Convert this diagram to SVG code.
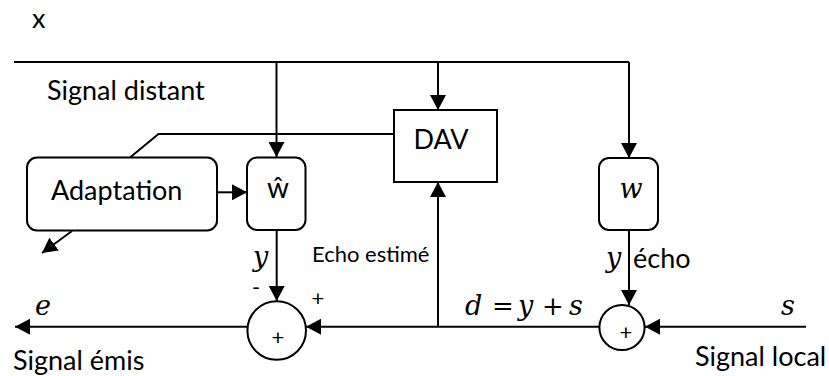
<svg xmlns="http://www.w3.org/2000/svg" width="829" height="376" viewBox="0 0 829 376">
<defs>
<style>
.ln{fill:none;stroke:#000;stroke-width:2}
.bx{fill:#fff;stroke:#000;stroke-width:2}
.t{font-family:Lato,"Liberation Sans",sans-serif;font-size:27px;fill:#000}
.ts{font-family:Lato,"Liberation Sans",sans-serif;font-size:22px;fill:#000}
.m{font-family:"DejaVu Serif",serif;font-style:italic;font-size:27px;fill:#000}
.mu{font-family:"DejaVu Serif",serif;font-size:26px;fill:#000}
</style>
<marker id="ah" viewBox="0 0 15 16" refX="15" refY="8" markerWidth="15" markerHeight="16" orient="auto" markerUnits="userSpaceOnUse">
<path d="M0,0 L15,8 L0,16 z" fill="#000"/>
</marker>
</defs>
<rect width="829" height="376" fill="#fff"/>
<g id="connectors">
<path class="ln" d="M14,62 H629"/>
<path class="ln" d="M276.5,62 V157" marker-end="url(#ah)"/>
<path class="ln" d="M438,62 V110" marker-end="url(#ah)"/>
<path class="ln" d="M629,62 V158" marker-end="url(#ah)"/>
<path class="ln" d="M217,192.3 H247" marker-end="url(#ah)"/>
<path class="ln" d="M130,157.5 L158.5,134 H394"/>
<path class="ln" d="M72,231 L42,253" marker-end="url(#ah)"/>
<path class="ln" d="M276.7,230 V301" marker-end="url(#ah)"/>
<path class="ln" d="M629,230 V305" marker-end="url(#ah)"/>
<path class="ln" d="M806,326.7 H645" marker-end="url(#ah)"/>
<path class="ln" d="M599,326.7 H306" marker-end="url(#ah)"/>
<path class="ln" d="M247,326.7 H15" marker-end="url(#ah)"/>
<path class="ln" d="M438,326.7 V182" marker-end="url(#ah)"/>
</g>
<g id="adaptation">
<rect class="bx" x="27" y="157.5" width="190" height="73" rx="10"/>
<text class="t" x="51" y="200">Adaptation</text>
</g>
<g id="w-hat">
<rect class="bx" x="247" y="157.5" width="58.5" height="72.5" rx="10"/>
<text class="t" x="278" y="197.5" text-anchor="middle" style="font-size:28px">ŵ</text>
</g>
<g id="dav">
<rect class="bx" x="394" y="110" width="103" height="72"/>
<text class="t" x="441" y="149" text-anchor="middle">DAV</text>
</g>
<g id="w">
<rect class="bx" x="599" y="158" width="59" height="72" rx="10"/>
<text class="m" x="631" y="198" text-anchor="middle">w</text>
</g>
<g id="sum-left">
<circle class="bx" cx="276.7" cy="330.5" r="29.3"/>
<text class="ts" x="278" y="345" text-anchor="middle">+</text>
</g>
<g id="sum-right">
<circle class="bx" cx="622" cy="327.5" r="22.6"/>
<text class="ts" x="626" y="339.5" text-anchor="middle">+</text>
</g>
<g id="labels">
<text class="t" x="32" y="28">x</text>
<text class="t" x="47" y="100">Signal distant</text>
<text class="ts" x="312" y="262">Echo estimé</text>
<text class="m" x="253" y="266">y</text>
<text class="ts" x="252" y="295">-</text>
<text class="ts" x="318" y="306" text-anchor="middle">+</text>
<text class="m" x="606" y="267">y</text>
<text class="t" x="633" y="268">écho</text>
<text class="m" x="35" y="315">e</text>
<text class="m" x="781" y="315">s</text>
<text x="0" y="315"><tspan class="m" x="465">d</tspan><tspan class="mu" x="492">=</tspan><tspan class="m" x="518">y</tspan><tspan class="mu" x="542">+</tspan><tspan class="m" x="569">s</tspan></text>
<text class="t" x="13" y="370">Signal émis</text>
<text class="t" x="695" y="366">Signal local</text>
</g>
</svg>
